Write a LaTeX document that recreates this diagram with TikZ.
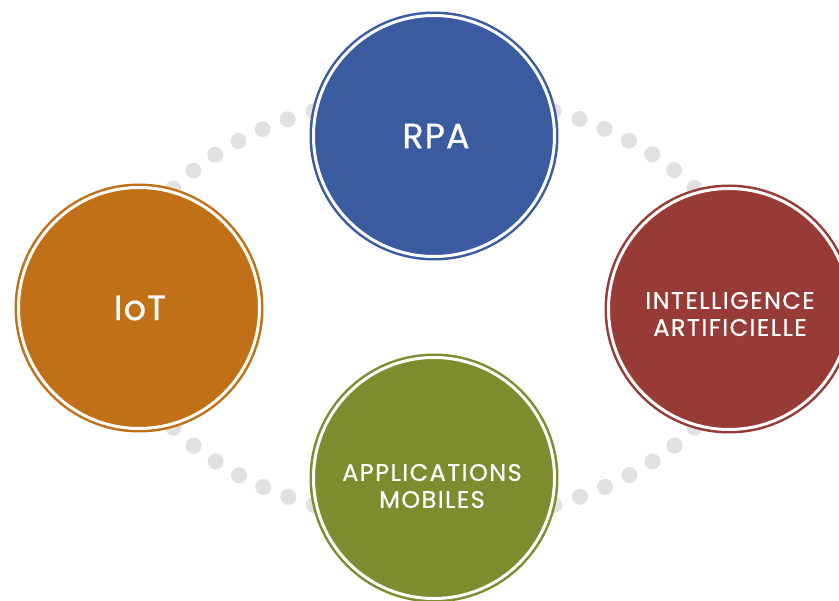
\documentclass[tikz,border=0pt]{standalone}
\usepackage{fontspec}
\setmainfont{Poppins}[FakeBold=0.6]
\definecolor{rpablue}{RGB}{58,91,160}
\definecolor{iotorange}{RGB}{194,112,24}
\definecolor{iared}{RGB}{152,58,53}
\definecolor{appgreen}{RGB}{126,139,46}
\definecolor{dotgray}{RGB}{225,225,225}
\begin{document}
\begin{tikzpicture}[x=1pt,y=-1pt,
    bubble/.style={circle, minimum size=241pt, inner sep=0pt, line width=2.5pt, double=white, double distance=3pt},
    bigtext/.style={text=white, font=\fontsize{35}{40}\selectfont\addfontfeature{LetterSpace=3}},
    smalltext/.style={text=white, align=center, font=\fontsize{24}{27}\selectfont\addfontfeature{LetterSpace=6}}]
    \useasboundingbox (0,0) rectangle (839,601);
    \clip (0,0) rectangle (839,601);

    % dotted ring behind the circles
    \draw[dotgray, line width=16pt, line cap=round, dash pattern=on 0pt off 27pt] (434,308) ellipse [x radius=315, y radius=213];

    \node[bubble, draw=rpablue, fill=rpablue] (rpa) at (434,136) {};
    \node[bubble, draw=iotorange, fill=iotorange] (iot) at (139,308) {};
    \node[bubble, draw=iared, fill=iared] (ia) at (729,309) {};
    \node[bubble, draw=appgreen, fill=appgreen] (apps) at (434,478) {};

    \node[bigtext] (rpatext) at (436,136) {RPA};
    \node[bigtext] (iottext) at (140,308) {IoT};
    \node[smalltext] (iatext) at (730,314) {INTELLIGENCE\\ARTIFICIELLE};
    \node[smalltext] (appstext) at (432,486) {APPLICATIONS\\MOBILES};
\end{tikzpicture}
\end{document}
